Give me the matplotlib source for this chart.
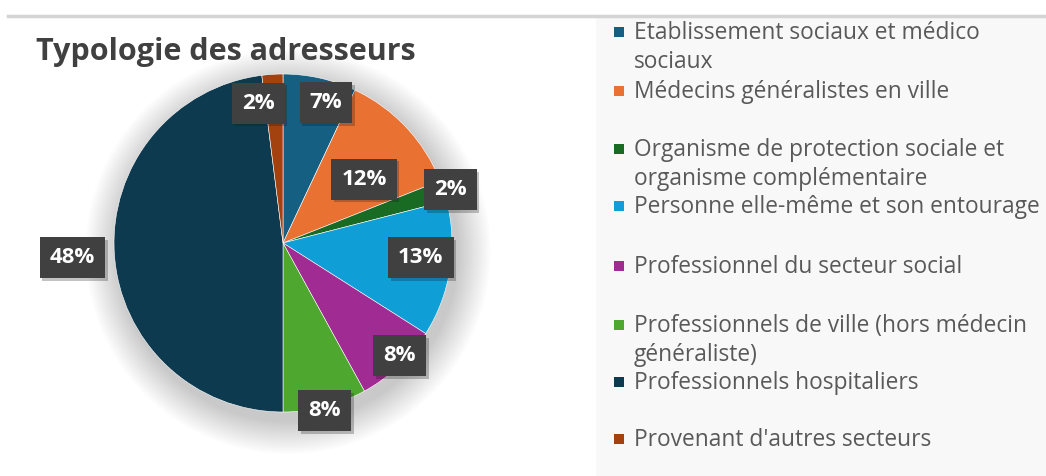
import numpy as np
import matplotlib
matplotlib.use("Agg")
import matplotlib.pyplot as plt
from matplotlib.patches import Rectangle, Circle
import matplotlib.patheffects as pe

# ---- data ----
categories = [
    "Etablissement sociaux et médico\nsociaux",
    "Médecins généralistes en ville",
    "Organisme de protection sociale et\norganisme complémentaire",
    "Personne elle-même et son entourage",
    "Professionnel du secteur social",
    "Professionnels de ville (hors médecin\ngénéraliste)",
    "Professionnels hospitaliers",
    "Provenant d'autres secteurs",
]
values = [7, 12, 2, 13, 8, 8, 48, 2]
colors = ["#156082", "#E97132", "#196B24", "#0F9ED5",
          "#A02B93", "#4EA72E", "#0E3A50", "#A3420F"]
title = "Typologie des adresseurs"
# data-label placement: radial distance (fraction of radius) and angular shift (deg)
label_dist = [0.87, 0.61, 1.04, 0.82, 0.96, 1.02, 1.25, 0.84]
label_shift = [4.4, 4.9, 0.2, -3.0, -2.8, 0.4, -0.4, -6.4]

W, H = 1046, 476
fig = plt.figure(figsize=(W / 100, H / 100), dpi=100)
fig.patch.set_facecolor("white")

def fx(px):
    return px / W

def fy(py):
    return 1 - py / H

FONT = "Open Sans"

# top rule
fig.add_artist(plt.Line2D([fx(8), fx(1046)], [fy(16), fy(16)], color="#d4d4d4", lw=2.5))
# legend panel
fig.add_artist(Rectangle((fx(596), 0), fx(1046 - 596), fy(18), transform=fig.transFigure,
                         facecolor="#f8f8f8", edgecolor="none", zorder=0))

# title
fig.text(fx(36), fy(60), title, fontsize=22, fontweight="bold", color="#404040",
         family=FONT, ha="left", va="baseline")

# pie axes
cx, cy, R = 283, 243, 169
ax = fig.add_axes([fx(cx - R), fy(cy + R), fx(2 * R), (2 * R) / H])
ax.axis("off")

# soft shadow
for i in range(18):
    r = 1.0 + 0.011 * (18 - i)
    ax.add_patch(Circle((0.03, -0.05), r, facecolor="black", alpha=0.01, edgecolor="none",
                        zorder=0, clip_on=False))

wedges, _ = ax.pie(values, colors=colors, startangle=90, counterclock=False, radius=1,
                   wedgeprops=dict(linewidth=0.4, edgecolor="white"))
for w in wedges:
    w.set_zorder(2)
ax.set_xlim(-1, 1)
ax.set_ylim(-1, 1)
ax.set_aspect("equal")

total = sum(values)
cum = 0
for v, d, s in zip(values, label_dist, label_shift):
    mid = (cum + v / 2) / total * 360 + s
    cum += v
    theta = np.deg2rad(90 - mid)
    x, y = d * np.cos(theta), d * np.sin(theta)
    t = ax.text(x, y, f"{v}%", ha="center", va="center", fontsize=16, fontweight="bold",
                color="white", family=FONT, zorder=5, clip_on=False,
                bbox=dict(boxstyle="square,pad=0.45", facecolor="#404040", edgecolor="none"))
    t.get_bbox_patch().set_path_effects([pe.SimplePatchShadow(offset=(2, -2), alpha=0.25),
                                         pe.Normal()])

# legend
entry_y = [32, 91, 149, 206, 266, 325, 382, 439]
line_h = 29
for lab, col, yy in zip(categories, colors, entry_y):
    fig.add_artist(Rectangle((fx(614), fy(yy + 5)), fx(10), 10 / H, transform=fig.transFigure,
                             facecolor=col, edgecolor="none"))
    for k, line in enumerate(lab.split("\n")):
        fig.text(fx(634), fy(yy + 1 + k * line_h), line, fontsize=16.4, color="#595959",
                 family=FONT, ha="left", va="center")

fig.savefig("out.png", dpi=100, facecolor="white")
